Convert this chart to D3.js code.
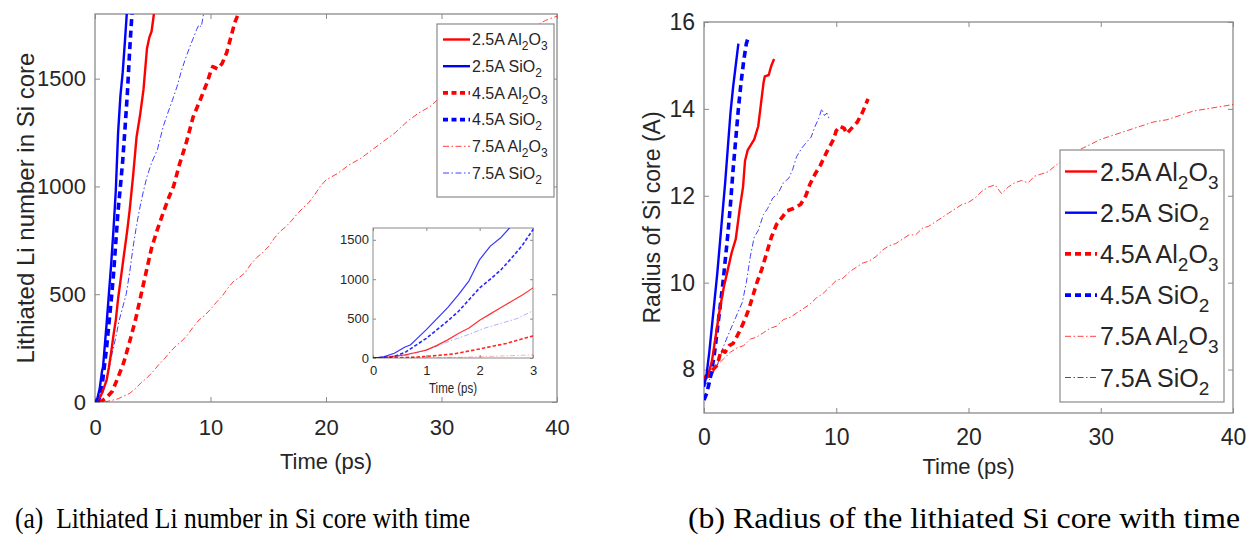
<!DOCTYPE html>
<html><head><meta charset="utf-8">
<script src="https://cdn.jsdelivr.net/npm/d3@7"></script>
<style>
body{margin:0;background:#fff}
svg{display:block}
</style>
</head><body>
<svg id="c" width="1252" height="535"></svg>
<script>
// ---------------- DATA ----------------
const seriesNames = ["2.5A Al_2O_3","2.5A SiO_2","4.5A Al_2O_3","4.5A SiO_2","7.5A Al_2O_3","7.5A SiO_2"];

// (a) lithiated Li number vs time (ps)
const liT25Al = [0,0.3,0.6,0.8,1.0,1.2,1.4,1.6,1.8,2.0,2.2,2.4,2.6,2.8,3.0,3.3,3.6,3.9,4.2,4.5,4.7,4.9,5.1];
const liV25Al = [0,15,40,70,100,160,230,310,380,480,560,640,720,800,890,1050,1230,1330,1450,1640,1690,1720,1800];
const liT25Si = [0,0.2,0.4,0.6,0.7,0.8,1.0,1.2,1.4,1.6,1.8,2.0,2.2,2.4,2.6,2.75];
const liV25Si = [0,15,60,140,165,230,360,500,640,800,980,1250,1420,1530,1680,1800];
const liT45Al = [0.3,0.6,1.0,1.5,2.0,2.5,3.0,3.5,4.0,4.5,4.9,5.4,5.9,6.4,6.8,7.3,7.9,8.5,9.1,9.7,10.0,10.2,10.6,11.0,11.4,11.8,12.1,12.4];
const liV45Al = [0,5,20,50,115,185,280,380,500,620,715,800,877,950,1000,1100,1202,1323,1400,1481,1530,1556,1545,1570,1620,1700,1760,1800];
const liT45Si = [0,0.2,0.4,0.6,0.8,1.0,1.2,1.4,1.6,1.8,2.0,2.2,2.4,2.6,2.8,3.0,3.2];
const liV45Si = [0,5,20,70,160,250,360,470,590,740,890,1000,1120,1270,1430,1630,1800];
const liT75Al = [0.8,1.5,2,2.5,3,3.5,4,4.5,5,5.5,6,6.5,7,7.5,8,8.5,9,9.5,10,10.5,11,11.5,12,12.5,13,13.5,14,14.5,15,15.5,16,16.5,17,17.5,18,18.5,19,19.5,20,21,22,23,24,25,26,27,28,29,30,31,32,33,34,35,36,37,38,39,40];
const liV75Al = [0,8,15,28,40,62,90,112,140,172,200,232,260,282,310,348,380,402,430,462,490,528,560,578,600,640,670,692,720,758,790,812,840,872,900,925,960,1000,1030,1060,1100,1130,1170,1210,1250,1300,1340,1370,1420,1460,1500,1550,1600,1640,1680,1710,1740,1770,1790];
const liT75Si = [0,0.3,0.6,0.9,1.2,1.5,1.8,2.1,2.4,2.7,3.0,3.3,3.6,3.9,4.2,4.5,4.9,5.4,5.9,6.3,6.7,7.1,7.5,7.9,8.3,8.6,8.8,9.0,9.2,9.4];
const liV75Si = [0,5,30,80,150,230,300,380,440,500,600,720,820,906,980,1045,1110,1170,1277,1340,1400,1463,1540,1603,1660,1700,1728,1750,1740,1800];

// (b) radius of Si core (A) vs time (ps)
const rT25Al = [0,0.3,0.6,0.9,1.2,1.5,1.8,2.1,2.4,2.7,2.95,3.1,3.3,3.5,3.8,4.1,4.3,4.5,4.6,4.9,5.0,5.1,5.3];
const rV25Al = [7.75,7.85,8.2,8.8,9.4,9.9,10.3,10.7,11.0,11.7,12.2,12.8,13.05,13.15,13.3,13.6,14.1,14.6,14.75,14.78,14.9,15.0,15.15];
const rT25Si = [0,0.2,0.4,0.6,0.8,1.0,1.2,1.4,1.6,1.8,2.0,2.2,2.4,2.6];
const rV25Si = [7.6,7.9,8.4,9.0,9.6,10.2,10.9,11.6,12.3,13.1,13.9,14.5,15.0,15.5];
const rT45Al = [0,0.5,1.0,1.3,1.6,1.9,2.2,2.5,2.8,3.1,3.4,3.6,4.0,4.36,4.66,5.1,5.5,5.9,6.25,6.7,7.3,7.7,8.0,8.4,8.8,9.3,9.8,10.0,10.3,10.6,10.8,11.0,11.3,11.6,12.0,12.4];
const rV45Al = [7.8,7.95,8.1,8.45,8.4,8.55,8.6,8.77,8.95,9.16,9.4,9.6,10.0,10.3,10.6,11.05,11.35,11.5,11.65,11.7,11.8,12.0,12.26,12.5,12.7,13.02,13.3,13.5,13.6,13.55,13.43,13.5,13.6,13.7,13.93,14.23];
const rT45Si = [0,0.2,0.4,0.6,0.8,1.0,1.2,1.4,1.6,1.8,2.0,2.2,2.4,2.6,2.8,3.0,3.2,3.3];
const rV45Si = [7.3,7.45,7.7,8.0,8.4,8.9,9.4,9.9,10.5,11.1,11.8,12.6,13.3,14.0,14.6,15.1,15.5,15.6];
const rT75Al = [0,0.5,1.0,1.5,2.0,2.5,3.0,3.5,4,4.5,5,5.5,6,6.5,7,7.5,8,8.5,9,9.5,10,10.5,11,11.5,12,12.5,13,13.5,14,14.5,15,15.5,16,16.5,17,17.5,18,18.5,19,19.5,20,20.5,21,21.5,22,22.5,23,23.5,24,24.5,25,25.5,26,27,28,29,30,31,32,33,34,35,36,37,38,39,40];
const rV75Al = [7.75,7.85,8.1,8.25,8.4,8.5,8.55,8.7,8.75,8.85,8.95,9.0,9.15,9.2,9.3,9.4,9.5,9.65,9.75,9.9,10.05,10.1,10.25,10.35,10.45,10.5,10.6,10.75,10.85,10.9,11.0,11.1,11.1,11.25,11.3,11.4,11.5,11.6,11.7,11.8,11.85,11.95,12.1,12.2,12.25,12.05,12.2,12.3,12.35,12.3,12.45,12.5,12.55,12.8,13.0,13.15,13.3,13.4,13.5,13.6,13.7,13.75,13.85,13.95,14.0,14.05,14.1];
const rT75Si = [0,0.5,1.0,1.5,1.9,2.4,2.9,3.2,3.5,3.8,4.1,4.5,4.8,5.2,5.6,6.0,6.4,6.7,7.0,7.4,7.8,8.1,8.4,8.7,8.9,9.1,9.3,9.5];
const rV75Si = [7.6,7.8,8.1,8.55,8.85,9.2,9.55,10.0,10.6,11.05,11.2,11.57,11.7,11.95,12.05,12.3,12.4,12.6,12.9,13.1,13.25,13.35,13.6,13.8,14.0,13.85,13.9,13.75];

// ticks
const xTicksMain = [0,10,20,30,40];
const yTicksLi = [0,500,1000,1500];
const yTicksR = [8,10,12,14,16];
const xTicksInset = [0,1,2,3];
const yTicksInset = [0,500,1000,1500];

// ---------------- STYLE ----------------
const SANS = "Liberation Sans, Arial, sans-serif";
const SERIF = "Liberation Serif, Times New Roman, serif";
const RED = "#ff0000", BLUE = "#0000ff";
const colors = [RED, BLUE, RED, BLUE, RED, BLUE];
const kinds = ["solid","solid","dash","dash","dashdot","dashdot"];
const mainStyle = {
  solid:{w:2.4, dash:null, op:1},
  dash:{w:3.6, dash:"7,4.5", op:1},
  dashdot:{w:1, dash:"6,2.5,1.5,2.5", op:0.75}
};
const insetStyle = {
  solid:{w:1.2, dash:null, op:0.8},
  dash:{w:1.6, dash:"3.5,2", op:0.85},
  dashdot:{w:0.9, dash:"5,2,1.5,2", op:0.35}
};
const AX = "#8a8a8a", TXT = "#262626";

const svg = d3.select("#c");
const defs = svg.append("defs");

function zip(t, v){ return t.map((d,i)=>[d, v[i]]); }
const liData = [zip(liT25Al,liV25Al), zip(liT25Si,liV25Si), zip(liT45Al,liV45Al), zip(liT45Si,liV45Si), zip(liT75Al,liV75Al), zip(liT75Si,liV75Si)];
const rData = [zip(rT25Al,rV25Al), zip(rT25Si,rV25Si), zip(rT45Al,rV45Al), zip(rT45Si,rV45Si), zip(rT75Al,rV75Al), zip(rT75Si,rV75Si)];

function subText(g, x, y, label, size, subSize){
  const t = g.append("text").attr("x",x).attr("y",y).attr("font-size",size).attr("fill",TXT).attr("font-family",SANS);
  const parts = label.split(/(_\d)/).filter(s=>s.length);
  let shifted = false;
  const sh = size*0.32;
  parts.forEach(p=>{
    if(p[0]==="_"){
      t.append("tspan").attr("font-size",subSize).attr("dy",shifted?0:sh).text(p.slice(1));
      shifted = true;
    } else {
      t.append("tspan").attr("dy",shifted?-sh:0).text(p);
      shifted = false;
    }
  });
  return t;
}

function frameAxes(g, x, y, xt, yt, o){
  const [x0,x1] = x.range(), [y0,y1] = y.range();
  g.append("rect").attr("x",x0).attr("y",y1).attr("width",x1-x0).attr("height",y0-y1)
    .attr("fill","#fff").attr("stroke",AX).attr("stroke-width",o.fw);
  const styleAx = s => { s.attr("font-family",SANS).attr("font-size",o.fs); s.select(".domain").remove();
    s.selectAll(".tick line").attr("stroke",AX).attr("stroke-width",1);
    s.selectAll(".tick text").attr("fill",TXT); };
  g.append("g").attr("transform",`translate(0,${y0})`)
    .call(d3.axisBottom(x).tickValues(xt).tickSize(-o.tl).tickPadding(o.xpad).tickFormat(d3.format("d"))).call(styleAx);
  g.append("g").attr("transform",`translate(0,${y1})`)
    .call(d3.axisTop(x).tickValues(xt).tickSize(-o.tl).tickFormat("")).call(styleAx);
  g.append("g").attr("transform",`translate(${x0},0)`)
    .call(d3.axisLeft(y).tickValues(yt).tickSize(-o.tl).tickPadding(o.ypad).tickFormat(d3.format("d"))).call(styleAx);
  g.append("g").attr("transform",`translate(${x1},0)`)
    .call(d3.axisRight(y).tickValues(yt).tickSize(-o.tl).tickFormat("")).call(styleAx);
}

function drawLines(g, x, y, data, st, clipId){
  const line = d3.line().x(d=>x(d[0])).y(d=>y(d[1]));
  const lg = g.append("g").attr("clip-path",`url(#${clipId})`);
  const order = [4,5,2,3,0,1];
  order.forEach(i=>{
    const s = st[kinds[i]];
    lg.append("path").datum(data[i]).attr("d",line).attr("fill","none")
      .attr("stroke",colors[i]).attr("stroke-width",s.w).attr("stroke-opacity",s.op)
      .attr("stroke-dasharray",s.dash).attr("stroke-linejoin","round");
  });
}

function clip(id, x, y){
  const [x0,x1] = x.range(), [y0,y1] = y.range();
  defs.append("clipPath").attr("id",id).append("rect").attr("x",x0).attr("y",y1).attr("width",x1-x0).attr("height",y0-y1);
}

function legend(g, o){
  g.append("rect").attr("x",o.x).attr("y",o.y).attr("width",o.w).attr("height",o.h)
    .attr("fill","#fff").attr("stroke",AX).attr("stroke-width",1.2);
  seriesNames.forEach((nm,i)=>{
    const yy = o.y0 + i*o.step;
    const s = mainStyle[kinds[i]];
    g.append("line").attr("x1",o.lx0).attr("x2",o.lx1).attr("y1",yy).attr("y2",yy)
      .attr("stroke",colors[i]).attr("stroke-width",s.w).attr("stroke-opacity",s.op)
      .attr("stroke-dasharray",kinds[i]==="dash"?o.dash:(kinds[i]==="dashdot"?"6,2.5,1.5,2.5":null));
    subText(g, o.tx, yy+o.fs*0.36, nm, o.fs, o.sfs);
  });
}

function label(g, x, y, txt, size, rot){
  const t = g.append("text").attr("text-anchor","middle").attr("font-size",size).attr("fill",TXT).attr("font-family",SANS).text(txt);
  if(rot) t.attr("transform",`translate(${x},${y}) rotate(-90)`); else t.attr("x",x).attr("y",y);
  return t;
}

// ---------------- CHART (a) ----------------
const gA = svg.append("g");
const xA = d3.scaleLinear().domain([0,40]).range([95,557]);
const yA = d3.scaleLinear().domain([0,1800]).range([402,14]);
clip("clipA", xA, yA);
frameAxes(gA, xA, yA, xTicksMain, yTicksLi, {fw:1.3, fs:22, tl:5, xpad:17, ypad:9});
drawLines(gA, xA, yA, liData, mainStyle, "clipA");
label(gA, (95+557)/2, 469, "Time (ps)", 22, false);
label(gA, 34, (14+402)/2, "Lithiated Li number in Si core", 24, true);

legend(gA, {x:437, y:24, w:117, h:173, y0:39.5, step:26.7, lx0:443, lx1:470, tx:472, fs:16, sfs:12, dash:"5,3.5"});

// inset
const xI = d3.scaleLinear().domain([0,3]).range([373,533]);
const yI = d3.scaleLinear().domain([0,1650]).range([358,228]);
clip("clipI", xI, yI);
frameAxes(gA, xI, yI, xTicksInset, yTicksInset, {fw:1, fs:13, tl:3, xpad:8, ypad:4});
drawLines(gA, xI, yI, liData, insetStyle, "clipI");
label(gA, 453, 393, "Time (ps)", 15, false).attr("textLength",48).attr("lengthAdjust","spacingAndGlyphs");

// ---------------- CHART (b) ----------------
const gB = svg.append("g");
const xB = d3.scaleLinear().domain([0,40]).range([704,1233]);
const yB = d3.scaleLinear().domain([7,16]).range([413,22]);
clip("clipB", xB, yB);
frameAxes(gB, xB, yB, xTicksMain, yTicksR, {fw:1.3, fs:23, tl:5, xpad:16, ypad:9});
drawLines(gB, xB, yB, rData, mainStyle, "clipB");
label(gB, (704+1233)/2, 474, "Time (ps)", 22, false);
label(gB, 660, (22+413)/2, "Radius of Si core (A)", 23, true);

legend(gB, {x:1060, y:150, w:164, h:252, y0:171.5, step:41.2, lx0:1065, lx1:1097, tx:1100, fs:25, sfs:19, dash:"6,4"});

// ---------------- captions ----------------
svg.append("text").attr("x",15).attr("y",528).attr("font-family",SERIF).attr("xml:space","preserve")
  .attr("font-size",29).attr("fill","#000").attr("textLength",455).attr("lengthAdjust","spacingAndGlyphs")
  .text("(a)  Lithiated Li number in Si core with time");
svg.append("text").attr("x",688).attr("y",528).attr("font-family",SERIF)
  .attr("font-size",29).attr("fill","#000").attr("textLength",552).attr("lengthAdjust","spacingAndGlyphs")
  .text("(b) Radius of the lithiated Si core with time");
</script>
</body></html>
